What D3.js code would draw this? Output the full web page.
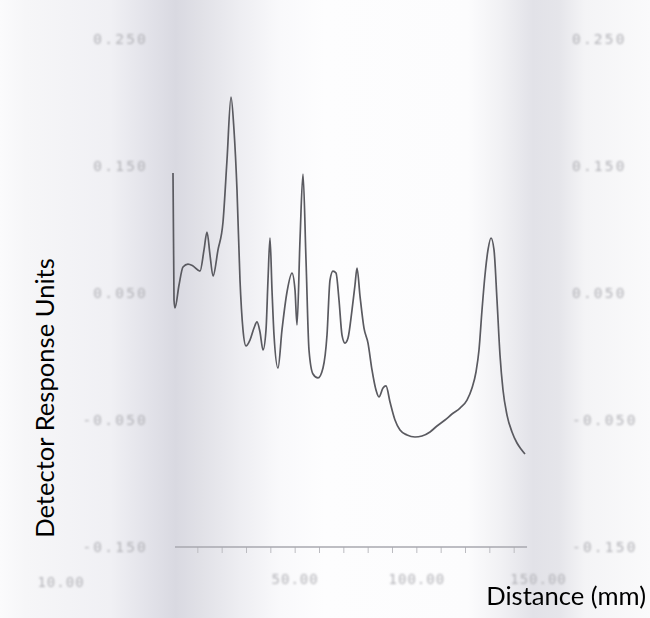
<!DOCTYPE html>
<html>
<head>
<meta charset="utf-8">
<script src="https://cdn.jsdelivr.net/npm/d3@7/dist/d3.min.js"></script>
<style>
  html, body { margin: 0; padding: 0; background: #fff; }
  svg { display: block; }
</style>
</head>
<body>
<svg id="chart" width="650" height="618"></svg>
<script>
// Densitometer trace: detector response along the scanned distance
const distanceMm = [0, 0.41, 0.82, 2.47, 4.11, 6.16, 8.22, 11.10, 12.74, 13.97, 15.21, 16.44, 18.49, 20.55,
  22.19, 23.84, 25.07, 26.30, 27.53, 28.77, 30.00, 31.64, 33.29, 34.52, 35.75, 36.99, 38.22, 39.04,
  39.86, 40.68, 41.51, 43.15, 44.79, 46.85, 48.90, 50.14, 50.96, 52.19, 53.42, 54.66, 55.89, 57.53,
  59.59, 61.64, 63.29, 64.52, 65.75, 66.99, 68.22, 69.45, 70.68, 71.92, 73.56, 74.79, 75.62, 76.85,
  78.49, 80.14, 81.78, 83.42, 84.66, 86.30, 87.53, 89.18, 91.23, 93.29, 96.16, 99.45, 102.33, 105.62,
  108.49, 111.78, 114.66, 117.95, 120.82, 122.88, 124.52, 125.75, 126.99, 128.22, 129.45, 130.69,
  131.92, 133.15, 134.38, 135.62, 137.26, 139.32, 141.37, 143.01, 144.66];
const response = [0.1445, 0.0445, 0.0382, 0.0563, 0.0705, 0.0728, 0.0713, 0.0673, 0.0839, 0.0980, 0.0799,
  0.0634, 0.0839, 0.1059, 0.1547, 0.2043, 0.1783, 0.1311, 0.0602, 0.0209, 0.0083, 0.0130, 0.0224,
  0.0272, 0.0193, 0.0051, 0.0209, 0.0602, 0.0933, 0.0524, 0.0169, -0.0091, 0.0209, 0.0508, 0.0657,
  0.0524, 0.0248, 0.0917, 0.1437, 0.0760, 0.0051, -0.0138, -0.0169, -0.0091, 0.0169, 0.0602, 0.0673,
  0.0657, 0.0445, 0.0169, 0.0106, 0.0146, 0.0366, 0.0563, 0.0697, 0.0476, 0.0224, 0.0106, -0.0106,
  -0.0264, -0.0319, -0.0248, -0.0232, -0.0358, -0.0500, -0.0579, -0.0618, -0.0634, -0.0626, -0.0594,
  -0.0547, -0.0500, -0.0453, -0.0406, -0.0343, -0.0248, -0.0122, 0.0051, 0.0366, 0.0642, 0.0839,
  0.0933, 0.0839, 0.0445, 0.0012, -0.0264, -0.0461, -0.0594, -0.0681, -0.0728, -0.0768];

const yTickValues = [0.25, 0.15, 0.05, -0.05, -0.15];
const yTickLabels = ["0.250", "0.150", "0.050", "-0.050", "-0.150"];
const xMinorTicks = [10, 20, 30, 40, 50, 60, 70, 80, 90, 100, 110, 120, 130, 140];
const xTickValues = [50, 100, 150];
const xTickLabels = ["50.00", "100.00", "150.00"];
const xStartLabel = "10.00";
const yAxisTitle = "Detector Response Units";
const xAxisTitle = "Distance (mm)";

const W = 650, H = 618;
const svg = d3.select("#chart");
const defs = svg.append("defs");

// paper shading: folds of the printout darken two vertical bands
const shade = defs.append("linearGradient").attr("id", "paper").attr("x1", 0).attr("x2", 1).attr("y1", 0).attr("y2", 0);
[[0, "#fbfbfc"], [0.04, "#f6f6f8"], [0.17, "#f0f0f4"], [0.23, "#e2e2e9"], [0.27, "#d9d9e1"],
 [0.31, "#e1e1e7"], [0.37, "#eeeef2"], [0.43, "#f9f9fb"], [0.5, "#fdfdfe"], [0.72, "#fcfcfd"],
 [0.77, "#f1f1f4"], [0.82, "#e2e2e8"], [0.86, "#e5e5ea"], [0.9, "#f4f4f6"], [1, "#fafafb"]]
  .forEach(([o, c]) => shade.append("stop").attr("offset", o).attr("stop-color", c));

// blur filters with a generous region so translated groups are never clipped
function blurFilter(id, sd) {
  defs.append("filter").attr("id", id)
    .attr("filterUnits", "userSpaceOnUse")
    .attr("x", -W).attr("y", -H).attr("width", 3 * W).attr("height", 3 * H)
    .append("feGaussianBlur").attr("stdDeviation", sd);
}
blurFilter("soft", 0.55);
blurFilter("softer", 0.85);

svg.append("rect").attr("width", W).attr("height", H).attr("fill", "url(#paper)");

const x = d3.scaleLinear().domain([0, 150]).range([173, 538]);
const y = d3.scaleLinear().domain([-0.15, 0.25]).range([547, 39]);

const tickFont = "'DejaVu Sans Mono', 'Liberation Mono', monospace";
const tickColor = "#b2b2b7";

// left value scale
const yLeft = svg.append("g").attr("transform", "translate(148,0)")
  .call(d3.axisLeft(y).tickValues(yTickValues).tickSize(0).tickPadding(0)
    .tickFormat((d, i) => yTickLabels[i]));
// right value scale
const yRight = svg.append("g").attr("transform", "translate(572,0)")
  .call(d3.axisRight(y).tickValues(yTickValues).tickSize(0).tickPadding(0)
    .tickFormat((d, i) => yTickLabels[i]));
[yLeft, yRight].forEach(g => {
  g.select(".domain").remove();
  g.attr("filter", "url(#softer)");
  g.selectAll("text").attr("fill", tickColor).attr("font-family", tickFont)
    .attr("font-size", 14.5).attr("letter-spacing", 2.2);
});

// baseline with minor ticks
const base = svg.append("g").attr("filter", "url(#soft)");
const xMinor = base.append("g").attr("transform", `translate(0,${y(-0.15)})`)
  .call(d3.axisBottom(x).tickValues(xMinorTicks).tickSize(6).tickFormat(""));
xMinor.select(".domain").remove();
xMinor.selectAll("line").attr("stroke", "#bcbcc1").attr("stroke-width", 1);
base.append("line")
  .attr("x1", x(0) + 2).attr("x2", x(145.5))
  .attr("y1", y(-0.15)).attr("y2", y(-0.15))
  .attr("stroke", "#a9a9af").attr("stroke-width", 1.3);

const xLabels = svg.append("g").attr("transform", `translate(0,${y(-0.15)})`)
  .attr("filter", "url(#softer)")
  .call(d3.axisBottom(x).tickValues(xTickValues).tickSize(0).tickPadding(27)
    .tickFormat((d, i) => xTickLabels[i]));
xLabels.select(".domain").remove();
xLabels.selectAll("text").attr("fill", tickColor).attr("font-family", tickFont)
  .attr("font-size", 14).attr("letter-spacing", 1.0);

// start-of-scan label printed under the left scale column
svg.append("text").attr("x", 61).attr("y", y(-0.15) + 30).attr("dy", "0.71em")
  .attr("text-anchor", "middle").attr("fill", tickColor).attr("font-family", tickFont)
  .attr("font-size", 14).attr("letter-spacing", 1.0).attr("filter", "url(#softer)")
  .text(xStartLabel);

// the trace
const pts = distanceMm.map((d, i) => [d, response[i]]);
const line = d3.line().x(d => x(d[0])).y(d => y(d[1])).curve(d3.curveMonotoneX);
svg.append("path").datum(pts).attr("d", line)
  .attr("fill", "none").attr("stroke", "#5a5a60").attr("stroke-width", 1.7)
  .attr("stroke-linejoin", "round").attr("filter", "url(#soft)");

// axis titles
const titleFont = "Lato, 'Open Sans', sans-serif";
svg.append("text").attr("transform", "translate(54,398) rotate(-90)")
  .attr("text-anchor", "middle").attr("font-family", titleFont).attr("font-size", 25.6)
  .attr("fill", "#000").text(yAxisTitle);
svg.append("text").attr("x", 646).attr("y", 605).attr("text-anchor", "end")
  .attr("font-family", titleFont).attr("font-size", 25.6).attr("fill", "#000").text(xAxisTitle);
</script>
</body>
</html>
